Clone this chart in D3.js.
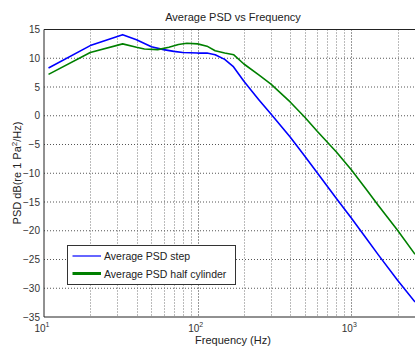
<!DOCTYPE html>
<html><head><meta charset="utf-8">
<script src="https://cdn.jsdelivr.net/npm/d3@7"></script>
<style>body{margin:0;background:#fff}svg{display:block;font-family:"Liberation Sans",Arial,sans-serif}</style>
</head><body><svg id="c" width="415" height="347"></svg>
<script>
const stepFreq = [10.7, 20, 32.5, 40, 50, 60, 70, 80, 100, 115, 130, 150, 170, 200, 250, 300, 400, 500, 600, 800, 1000, 1250, 1500, 2000, 2600];
const stepVals = [8.3, 12.2, 14.1, 13.2, 12.0, 11.5, 11.2, 11.0, 10.9, 10.9, 10.6, 9.8, 8.6, 6.0, 2.8, 0.3, -3.7, -7.1, -9.9, -14.4, -17.8, -21.3, -24.2, -28.6, -32.4];
const cylFreq = [10.7, 20, 32.5, 40, 45, 55, 65, 75, 85, 100, 115, 130, 150, 172, 200, 250, 300, 400, 500, 600, 800, 1000, 1250, 1500, 2000, 2600];
const cylVals = [7.2, 11.0, 12.5, 11.9, 11.6, 11.5, 11.9, 12.4, 12.6, 12.5, 12.1, 11.3, 10.9, 10.6, 9.0, 7.1, 5.5, 2.4, -0.3, -2.7, -6.3, -9.4, -12.8, -15.6, -19.9, -24.1];
const yTicks = [15, 10, 5, 0, -5, -10, -15, -20, -25, -30, -35];
const xMajor = [10, 100, 1000];
const xMinor = [20,30,40,50,60,70,80,90,200,300,400,500,600,700,800,900,2000];
const seriesNames = ["Average PSD step", "Average PSD half cylinder"];

const svg = d3.select("#c");
const L = 44, T = 29.5, B = 317, R = 415;
const x = d3.scaleLog().domain([10, 1000]).range([L, 351.3]);
const y = d3.scaleLinear().domain([-35, 15]).range([B, T]);

svg.append("defs").append("clipPath").attr("id","clip").append("rect")
  .attr("x", L).attr("y", T).attr("width", R - L + 5).attr("height", B - T);

const g = svg.append("g");
// grid
g.selectAll(".hg").data(yTicks.filter(d => d > -35 && d < 15)).join("line")
  .attr("x1", L).attr("x2", R + 5).attr("y1", d => y(d)).attr("y2", d => y(d))
  .attr("stroke", "#555").attr("stroke-dasharray", "1,2").attr("stroke-width", 1);
g.selectAll(".vm").data(xMinor).join("line")
  .attr("x1", d => Math.round(x(d)) + 0.5).attr("x2", d => Math.round(x(d)) + 0.5).attr("y1", T).attr("y2", B)
  .attr("stroke", "#777").attr("stroke-dasharray", "1,2").attr("stroke-width", 1);
g.selectAll(".vM").data(xMajor.slice(1)).join("line")
  .attr("x1", d => Math.round(x(d)) + 0.5).attr("x2", d => Math.round(x(d)) + 0.5).attr("y1", T).attr("y2", B)
  .attr("stroke", "#333").attr("stroke-dasharray", "1,2").attr("stroke-width", 1);

// axes box
g.append("line").attr("x1", L).attr("x2", L).attr("y1", T).attr("y2", B).attr("stroke", "#222");
g.append("line").attr("x1", L).attr("x2", R + 5).attr("y1", T).attr("y2", T).attr("stroke", "#222");
g.append("line").attr("x1", L).attr("x2", R + 5).attr("y1", B).attr("y2", B).attr("stroke", "#222");

// y tick labels
const yAxis = d3.axisLeft(y).tickValues(yTicks).tickSize(0).tickPadding(4).tickFormat(d3.format("d"));
const ya = svg.append("g").attr("transform", `translate(${L},0)`).call(yAxis);
ya.select(".domain").remove();
ya.selectAll("text").attr("font-size", 10).attr("fill", "#333").attr("font-family", "Liberation Sans, Arial, sans-serif");

// x tick labels with superscript
const xt = svg.append("g");
xMajor.forEach((d, i) => {
  const t = xt.append("text").attr("x", x(d) - 2).attr("y", B + 15).attr("text-anchor", "middle")
    .attr("font-size", 10).attr("fill", "#333");
  t.append("tspan").text("10");
  t.append("tspan").attr("dy", -5).attr("font-size", 7).text(String(Math.round(Math.log10(d))));
});

// lines
const line = d3.line().x(d => x(d[0])).y(d => y(d[1]));
const pg = svg.append("g").attr("clip-path", "url(#clip)");
pg.append("path").datum(stepFreq.map((f, i) => [f, stepVals[i]])).attr("d", line)
  .attr("fill", "none").attr("stroke", "#0000ff").attr("stroke-width", 1.6).attr("stroke-linejoin", "round");
pg.append("path").datum(cylFreq.map((f, i) => [f, cylVals[i]])).attr("d", line)
  .attr("fill", "none").attr("stroke", "#008000").attr("stroke-width", 1.6).attr("stroke-linejoin", "round");

// title & labels
svg.append("text").attr("x", 233).attr("y", 21).attr("text-anchor", "middle").attr("font-size", 11).attr("fill", "#222")
  .text("Average PSD vs Frequency");
svg.append("text").attr("x", 233).attr("y", 344).attr("text-anchor", "middle").attr("font-size", 11).attr("fill", "#222")
  .text("Frequency (Hz)");
const yl = svg.append("text").attr("transform", "translate(21,173) rotate(-90)").attr("text-anchor", "middle")
  .attr("font-size", 11).attr("fill", "#222");
yl.append("tspan").text("PSD dB(re 1 Pa");
yl.append("tspan").attr("dy", -4).attr("font-size", 8).text("2");
yl.append("tspan").attr("dy", 4).text("/Hz)");

// legend
const lg = svg.append("g");
lg.append("rect").attr("x", 67.5).attr("y", 245.5).attr("width", 168).attr("height", 39)
  .attr("fill", "#fff").attr("stroke", "#333");
const colors = ["#0000ff", "#008000"], widths = [1.2, 3];
seriesNames.forEach((n, i) => {
  const yy = 256 + i * 17.5;
  lg.append("line").attr("x1", 72.5).attr("x2", 101).attr("y1", yy).attr("y2", yy)
    .attr("stroke", colors[i]).attr("stroke-width", widths[i]);
  lg.append("text").attr("x", 104).attr("y", yy + 4).attr("font-size", 10.5).attr("fill", "#222").text(n);
});
</script></body></html>
